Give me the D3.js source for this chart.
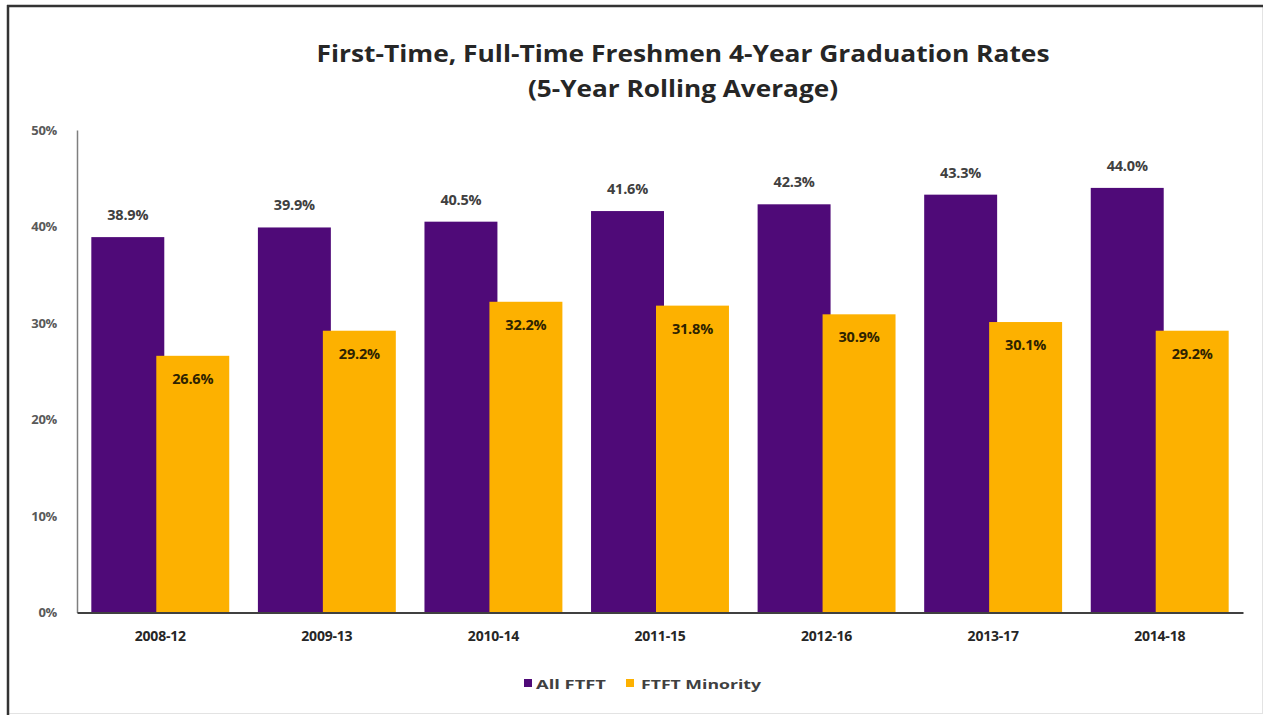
<!DOCTYPE html>
<html><head><meta charset="utf-8">
<script src="https://cdn.jsdelivr.net/npm/d3@7"></script>
<style>
html,body{margin:0;padding:0;background:#fff;}
svg{display:block;}
text{font-family:"Open Sans","Noto Sans",sans-serif;font-weight:bold;}
</style></head>
<body>
<svg id="chart" width="1264" height="715"></svg>
<script>
const categories = ["2008-12","2009-13","2010-14","2011-15","2012-16","2013-17","2014-18"];
const allFTFT = [38.9, 39.9, 40.5, 41.6, 42.3, 43.3, 44.0];
const ftftMinority = [26.6, 29.2, 32.2, 31.8, 30.9, 30.1, 29.2];
const yTicks = [0, 10, 20, 30, 40, 50];
const seriesNames = ["All FTFT", "FTFT Minority"];
const colors = ["#4F0A78", "#FDB100"];
const titleLines = ["First-Time, Full-Time Freshmen 4-Year Graduation Rates", "(5-Year Rolling Average)"];

const svg = d3.select("#chart");
// frame
svg.append("rect").attr("x",7.5).attr("y",5.5).attr("width",1255).attr("height",708)
  .attr("fill","#fff").attr("stroke","#e3e3e3").attr("stroke-width",1);
svg.append("line").attr("x1",7).attr("x2",1263).attr("y1",6).attr("y2",6).attr("stroke","#333").attr("stroke-width",2.5);
svg.append("line").attr("x1",8).attr("x2",8).attr("y1",5).attr("y2",715).attr("stroke","#333").attr("stroke-width",2.5);

const x = d3.scaleBand().domain(categories).range([77, 1243]).padding(0);
const y = d3.scaleLinear().domain([0, 50]).range([612.5, 130]);
const step = x.bandwidth();
const bw = step * 0.438;
const off = step * 0.39;
const start = (step - (off + bw)) / 2;

// title
const tl = [{t:titleLines[0], y:62, len:733},{t:titleLines[1], y:97, len:310}];
svg.selectAll("text.title").data(tl).join("text").attr("class","title")
  .attr("x",683).attr("y",d=>d.y).attr("text-anchor","middle")
  .attr("font-size",24).attr("fill","#262626")
  .attr("textLength",d=>d.len).attr("lengthAdjust","spacingAndGlyphs")
  .text(d=>d.t);

// y axis
const yAxis = d3.axisLeft(y).tickValues(yTicks).tickSize(0).tickPadding(20).tickFormat(d=>d+"%");
const gy = svg.append("g").attr("transform","translate(77,0)").call(yAxis);
gy.select(".domain").attr("stroke","#7f7f7f").attr("stroke-width",1.5);
gy.selectAll("text").attr("font-size",13).attr("fill","#595959").attr("font-family","'Open Sans',sans-serif").attr("font-weight","bold").attr("letter-spacing",-0.3);

// bars
const g = svg.append("g");
g.selectAll("rect.all").data(allFTFT).join("rect").attr("class","all")
  .attr("x",(d,i)=>x(categories[i])+start).attr("width",bw)
  .attr("y",d=>y(d)).attr("height",d=>y(0)-y(d)).attr("fill",colors[0]);
g.selectAll("rect.min").data(ftftMinority).join("rect").attr("class","min")
  .attr("x",(d,i)=>x(categories[i])+start+off).attr("width",bw)
  .attr("y",d=>y(d)).attr("height",d=>y(0)-y(d)).attr("fill",colors[1]);

// x axis
const xAxis = d3.axisBottom(x).tickSize(0).tickPadding(19);
const gx = svg.append("g").attr("transform","translate(0,612.5)").call(xAxis);
gx.select(".domain").attr("stroke","#404040").attr("stroke-width",2);
gx.selectAll("text").attr("font-size",14).attr("fill","#262626").attr("font-family","'Open Sans',sans-serif").attr("font-weight","bold").attr("letter-spacing",-0.2);

// value labels
g.selectAll("text.lall").data(allFTFT).join("text").attr("class","lall")
  .attr("x",(d,i)=>x(categories[i])+start+bw/2).attr("y",d=>y(d)-17)
  .attr("text-anchor","middle").attr("font-size",14.5).attr("fill","#404040").attr("letter-spacing",-0.2)
  .text(d=>d.toFixed(1)+"%");
g.selectAll("text.lmin").data(ftftMinority).join("text").attr("class","lmin")
  .attr("x",(d,i)=>x(categories[i])+start+off+bw/2).attr("y",d=>y(d)+28)
  .attr("text-anchor","middle").attr("font-size",14.5).attr("fill","#2e2300").attr("letter-spacing",-0.2)
  .text(d=>d.toFixed(1)+"%");

// legend
const leg = [{n:seriesNames[0], c:colors[0], x:524, tx:536, len:70},{n:seriesNames[1], c:colors[1], x:626, tx:641, len:120}];
const lg = svg.append("g");
lg.selectAll("rect").data(leg).join("rect").attr("x",d=>d.x).attr("y",679).attr("width",8).attr("height",8).attr("fill",d=>d.c);
lg.selectAll("text").data(leg).join("text").attr("x",d=>d.tx).attr("y",688.5)
  .attr("font-size",13).attr("fill","#404040").attr("textLength",d=>d.len).attr("lengthAdjust","spacingAndGlyphs").text(d=>d.n);
</script>
</body></html>
